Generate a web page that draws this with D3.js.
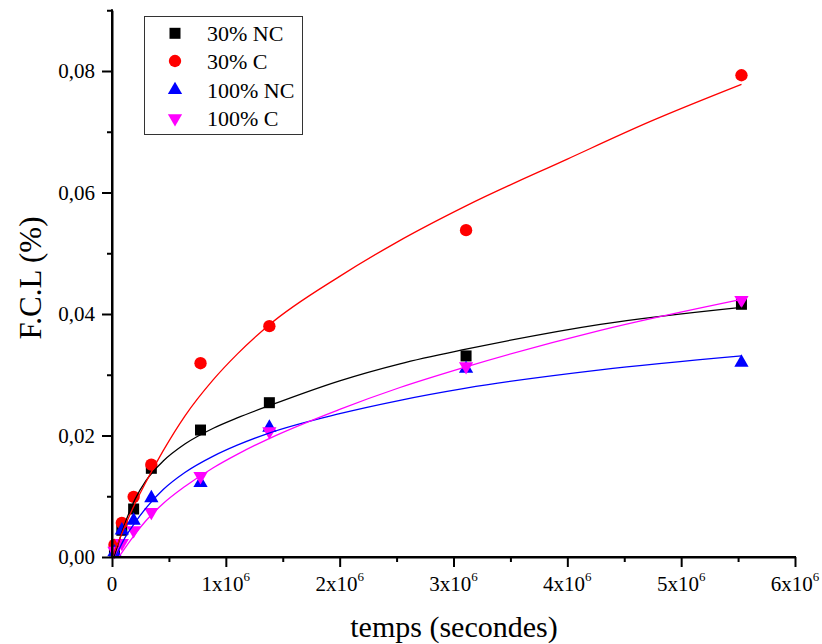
<!DOCTYPE html>
<html><head><meta charset="utf-8">
<script src="https://cdn.jsdelivr.net/npm/d3@7"></script>
<style>
body{margin:0;background:#fff}
svg{display:block}
text{font-family:"Liberation Serif","Times New Roman",serif;fill:#000}
</style>
</head><body><svg id="c" width="822" height="644"></svg>
<script>
// ---- data ----
const timeSec = [21600, 86400, 190000, 345600, 777600, 1382400, 3110400, 5529600];
const seriesNames = ["30% NC", "30% C", "100% NC", "100% C"];
const nc30  = [0.0010, 0.0044, 0.0079, 0.0146, 0.0209, 0.0254, 0.0331, 0.0416];
const c30   = [0.0020, 0.0056, 0.0099, 0.0152, 0.0319, 0.0380, 0.0538, 0.0793];
const nc100 = [0.0008, 0.0044, 0.0060, 0.0097, 0.0122, 0.0213, 0.0310, 0.0320];
const c100  = [0.0010, 0.0023, 0.0044, 0.0074, 0.0133, 0.0207, 0.0314, 0.0423];

// fitted curves (x in seconds)
const fitX_nc30  = [18000, 50000, 100000, 200000, 300000, 450000, 640000, 890000, 1100000, 1380000, 2000000, 2530000, 3110000, 4290000, 5530000];
const fitY_nc30  = [0, 0.0019, 0.0048, 0.0094, 0.0126, 0.0158, 0.0186, 0.0212, 0.0229, 0.0249, 0.0290, 0.0318, 0.0342, 0.0383, 0.0411];
const fitX_c30   = [0, 50000, 100000, 200000, 300000, 450000, 640000, 890000, 1100000, 1380000, 2000000, 2500000, 3110000, 4000000, 4730000, 5530000];
const fitY_c30   = [0, 0.0022, 0.0045, 0.0087, 0.0124, 0.0175, 0.0232, 0.0292, 0.0334, 0.0382, 0.0462, 0.0518, 0.0578, 0.0655, 0.0717, 0.0778];
const fitX_nc100 = [30000, 50000, 100000, 200000, 300000, 450000, 640000, 890000, 1100000, 1380000, 2000000, 2530000, 3110000, 4290000, 5530000];
const fitY_nc100 = [0, 0.0008, 0.0027, 0.0056, 0.0081, 0.0111, 0.0139, 0.0166, 0.0184, 0.0204, 0.0236, 0.0258, 0.0278, 0.0308, 0.0331];
const fitX_c100  = [60000, 100000, 200000, 300000, 450000, 640000, 890000, 1100000, 1380000, 2000000, 2530000, 3110000, 4290000, 5530000];
const fitY_c100  = [0, 0.0011, 0.0037, 0.0060, 0.0088, 0.0116, 0.0147, 0.0169, 0.0195, 0.0243, 0.0279, 0.0313, 0.0373, 0.0424];

const xTicks = [0, 1e6, 2e6, 3e6, 4e6, 5e6, 6e6];
const xTickLabels = ["0", "1x10", "2x10", "3x10", "4x10", "5x10", "6x10"];
const xTickExp = ["", "6", "6", "6", "6", "6", "6"];
const xMinorTicks = [5e5, 1.5e6, 2.5e6, 3.5e6, 4.5e6, 5.5e6];
const yTicks = [0, 0.02, 0.04, 0.06, 0.08];
const yTickLabels = ["0,00", "0,02", "0,04", "0,06", "0,08"];
const yMinorTicks = [0.01, 0.03, 0.05, 0.07, 0.09];
const xTitle = "temps (secondes)";
const yTitle = "F.C.L (%)";

// ---- drawing ----
const svg = d3.select("#c");
const x = d3.scaleLinear().domain([0, 6e6]).range([112, 795]);
const y = d3.scaleLinear().domain([0, 0.09]).range([557, 10.25]);

const colors = ["#000000", "#ff0000", "#0000ff", "#ff00ff"];
const values = [nc30, c30, nc100, c100];
const fitsX = [fitX_nc30, fitX_c30, fitX_nc100, fitX_c100];
const fitsY = [fitY_nc30, fitY_c30, fitY_nc100, fitY_c100];
const symbols = [
  d3.symbol().type(d3.symbolSquare).size(121),
  d3.symbol().type(d3.symbolCircle).size(120),
  d3.symbol().type(d3.symbolTriangle).size(88),
  d3.symbol().type(d3.symbolTriangle).size(88)
];
const rot = [0, 0, 0, 180];

svg.append("clipPath").attr("id", "clip").append("rect")
  .attr("x", 112).attr("y", 0).attr("width", 700).attr("height", 557);

// markers
values.forEach((vals, i) => {
  svg.append("g").selectAll("path").data(vals).join("path")
    .attr("d", symbols[i]())
    .attr("transform", (d, j) => `translate(${x(timeSec[j])},${y(d)}) rotate(${rot[i]})`)
    .attr("fill", colors[i]);
});

// fit lines
const line = d3.line().x(d => x(d[0])).y(d => y(d[1])).curve(d3.curveMonotoneX);
fitsX.forEach((fx, i) => {
  svg.append("path")
    .attr("d", line(fx.map((v, j) => [v, fitsY[i][j]])))
    .attr("fill", "none").attr("stroke", colors[i]).attr("stroke-width", 1.3)
    .attr("clip-path", "url(#clip)");
});

// x axis
const xAxis = svg.append("g").attr("transform", "translate(0,557)");
xAxis.call(d3.axisBottom(x).tickValues(xTicks).tickSize(10).tickSizeOuter(0).tickFormat(""));
xAxis.append("g").call(d3.axisBottom(x).tickValues(xMinorTicks).tickSize(5).tickSizeOuter(0).tickFormat(""));
xAxis.selectAll(".domain").attr("stroke-width", 2);
xAxis.selectAll(".tick line").attr("stroke-width", 2);
xAxis.select(".domain").attr("d", `M${x(0) - 1},0H${x(6e6) + 1}`);
xTicks.forEach((t, i) => {
  const tx = svg.append("text").attr("x", x(t)).attr("y", 591)
    .attr("text-anchor", "middle").attr("font-size", 21).text(xTickLabels[i]);
  if (xTickExp[i]) tx.append("tspan").attr("font-size", 13).attr("dy", -10).text(xTickExp[i]);
});

// y axis
const yAxis = svg.append("g").attr("transform", "translate(112,0)");
yAxis.call(d3.axisLeft(y).tickValues(yTicks).tickSize(10).tickSizeOuter(0).tickFormat(""));
yAxis.append("g").call(d3.axisLeft(y).tickValues(yMinorTicks).tickSize(5).tickSizeOuter(0).tickFormat(""));
yAxis.selectAll(".domain").attr("stroke-width", 2);
yAxis.selectAll(".tick line").attr("stroke-width", 2);
yAxis.select(".domain").attr("d", `M0,${y(0.09) - 1}V${y(0) + 1}`);
yTicks.forEach((t, i) => {
  svg.append("text").attr("x", 95).attr("y", y(t)).attr("dy", "0.35em")
    .attr("text-anchor", "end").attr("font-size", 21).text(yTickLabels[i]);
});

// titles
svg.append("text").attr("x", 454).attr("y", 637).attr("text-anchor", "middle")
  .attr("font-size", 30).text(xTitle);
svg.append("text").attr("transform", "translate(41,278) rotate(-90)")
  .attr("text-anchor", "middle").attr("font-size", 31).text(yTitle);

// legend
const lg = svg.append("g");
lg.append("rect").attr("x", 144.5).attr("y", 16.5).attr("width", 158).attr("height", 118)
  .attr("fill", "#fff").attr("stroke", "#333").attr("stroke-width", 1);
const rowY = [33.3, 61, 90, 118.3];
seriesNames.forEach((name, i) => {
  lg.append("path").attr("d", symbols[i]())
    .attr("transform", `translate(175,${rowY[i]}) rotate(${rot[i]})`).attr("fill", colors[i]);
  lg.append("text").attr("x", 207).attr("y", rowY[i] + 8).attr("font-size", 22).text(name);
});
</script>
</body></html>
